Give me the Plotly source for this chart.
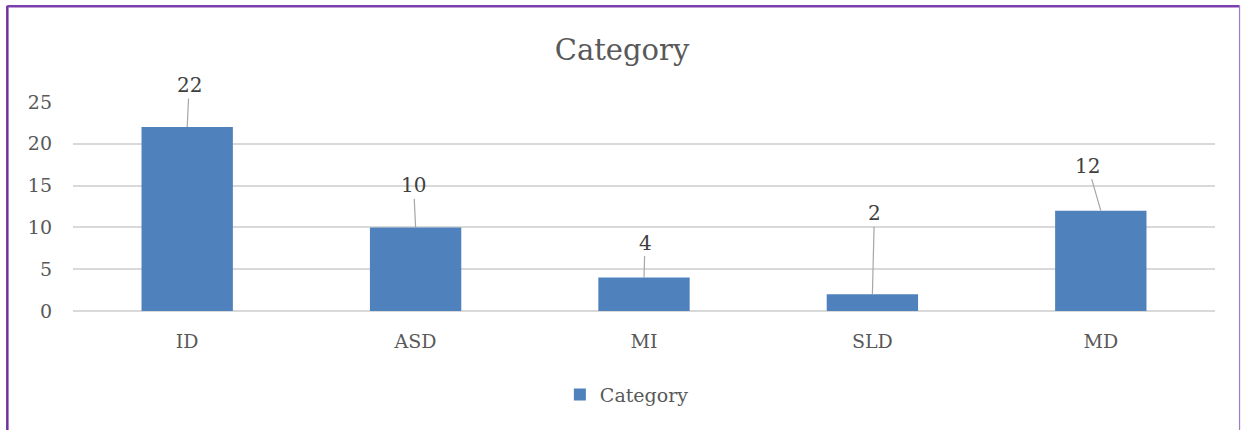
import plotly.graph_objects as go

categories = ["ID", "ASD", "MI", "SLD", "MD"]
values = [22, 10, 4, 2, 12]
series_name = "Category"
y_ticks = [0, 5, 10, 15, 20, 25]

# label offsets (pixels) for the callout-style data labels
label_dx = [2, -2, 1, 2, -13]
label_dy = [-42, -42, -35, -81, -45]

FONT = "DejaVu Serif"
TXT = "#595959"

fig = go.Figure()
fig.add_trace(go.Bar(
    x=categories, y=values, name=series_name,
    marker=dict(color="#4F81BD", line=dict(width=0)),
    showlegend=True,
))

for c, v, dx, dy in zip(categories, values, label_dx, label_dy):
    fig.add_annotation(
        x=c, y=v, text=str(v), showarrow=True, arrowhead=0,
        arrowwidth=1.2, arrowcolor="#A6A6A6", ax=dx, ay=dy,
        standoff=0, startstandoff=0,
        font=dict(family=FONT, size=20, color="#404040"),
    )

# outer border (purple)
fig.add_shape(type="line", xref="paper", yref="paper", x0=-0.0575, x1=-0.0575, y0=1.46, y1=-0.7,
              line=dict(color="#7030A0", width=2.5))
fig.add_shape(type="line", xref="paper", yref="paper", x0=-0.0575, x1=1.0215, y0=1.458, y1=1.458,
              line=dict(color="#7E3FAE", width=2.5))
fig.add_shape(type="line", xref="paper", yref="paper", x0=1.0215, x1=1.0215, y0=1.46, y1=-0.7,
              line=dict(color="#A07CC8", width=1.2))

fig.update_layout(
    width=1244, height=430,
    margin=dict(l=73, r=29, t=102, b=119),
    paper_bgcolor="white", plot_bgcolor="white",
    bargap=0.6,
    font=dict(family=FONT, color=TXT, size=19),
    title=dict(text="Category", x=0.5, xanchor="center", y=0.884, yanchor="middle",
               font=dict(family=FONT, size=29, color=TXT)),
    xaxis=dict(showgrid=False, showline=False, ticks="", ticklabelstandoff=17,
               tickfont=dict(family=FONT, size=19, color=TXT)),
    yaxis=dict(range=[0, 25], tickvals=y_ticks, showgrid=True, gridcolor="#D9D9D9", gridwidth=1.5,
               zeroline=True, zerolinecolor="#D9D9D9", zerolinewidth=1.5,
               showline=False, ticks="", ticklabelstandoff=20,
               tickfont=dict(family=FONT, size=19, color=TXT)),
    legend=dict(orientation="h", x=0.485, xanchor="center", y=-0.4, yanchor="middle",
                font=dict(family=FONT, size=19, color=TXT), itemwidth=30),
)

fig.write_html("out.html", config={"displayModeBar": False},
               post_script="document.body.style.margin='0px';document.body.style.overflow='hidden';")
